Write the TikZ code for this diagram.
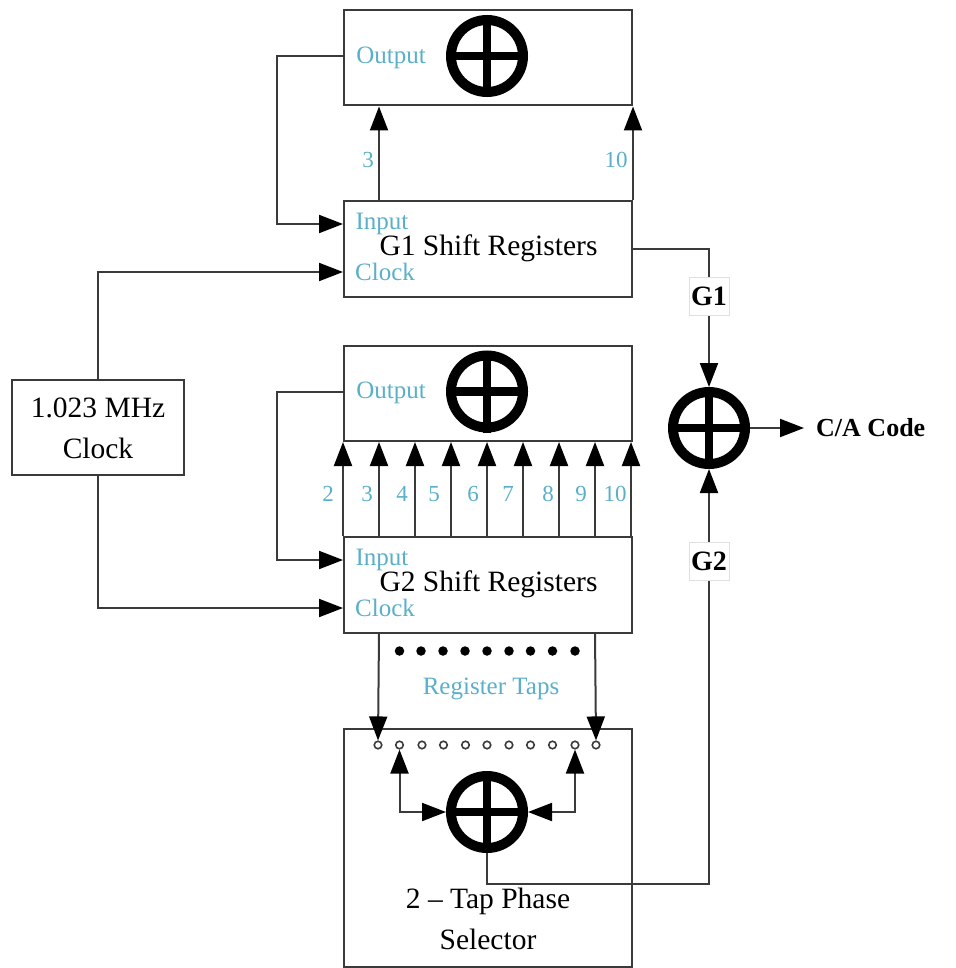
\documentclass[tikz,border=0pt]{standalone}
\usepackage{fontspec}
\setmainfont{Liberation Serif}
\usetikzlibrary{arrows.meta,calc}
\definecolor{tealtxt}{HTML}{5AAFC9}
\definecolor{linegray}{HTML}{3A3A3A}
\tikzset{
  block/.style={draw=linegray,line width=2pt,minimum width=288pt,minimum height=95.5pt,inner sep=0pt,anchor=north west},
  xorsym/.style={circle,draw=black,line width=10pt,minimum size=72pt,inner sep=0pt,fill=white},
  xorbar/.style={draw=black,line width=8.5pt},
  link/.style={draw=linegray,line width=2pt},
  arr/.style={link,-{Triangle[length=24pt,width=18pt,color=black]}},
  darr/.style={link,{Triangle[length=24pt,width=18pt,color=black]}-{Triangle[length=24pt,width=18pt,color=black]}},
  port/.style={text=tealtxt,font=\fontsize{25}{28}\selectfont,inner sep=0pt},
  num/.style={text=tealtxt,font=\fontsize{23}{26}\selectfont,inner sep=0pt},
  title/.style={text=black,font=\fontsize{29.5}{32}\selectfont,inner sep=0pt},
  tag/.style={draw=black!12,line width=1pt,fill=white,text=black,font=\bfseries\fontsize{28}{30}\selectfont,minimum width=40pt,minimum height=38pt,inner sep=0pt},
  hole/.style={circle,draw=linegray,line width=1.6pt,fill=white,minimum size=7.5pt,inner sep=0pt},
  bead/.style={circle,fill=black,minimum size=9.5pt,inner sep=0pt},
}
\newcommand{\xorat}[2]{%
  \node[xorsym] (#1) at (#2) {};
  \draw[xorbar] (#1.north) -- (#1.south);
  \draw[xorbar] (#1.west) -- (#1.east);
}
\begin{document}
\begin{tikzpicture}[x=1pt,y=-1pt]
\useasboundingbox (0,0) rectangle (955,968);
% blocks
\node[block] (g1out) at (343,9) {};
\node[block] (g1reg) at (343,200) {};
\node[block] (g2out) at (343,344.5) {};
\node[block] (g2reg) at (343,536) {};
\node[block,minimum height=238pt] (sel) at (343,728) {};
\node[draw=linegray,line width=2pt,minimum width=172pt,minimum height=95pt,inner sep=0pt,align=center] (clk) at (98,427.5) {};
\node[title] (clk1) at (98,408) {1.023 MHz};
\node[title] (clk2) at (98,448) {Clock};
% xor symbols
\xorat{xg1}{487,56}
\xorat{xg2}{487,391.5}
\xorat{xca}{709,428}
\xorat{xsel}{487,812}
% coordinates of ports
\coordinate (g1fb) at (277,56);
\coordinate (g1in) at (343,224);
\coordinate (g1ck) at (343,272);
\coordinate (g2fb) at (277,391.5);
\coordinate (g2in) at (343,560);
\coordinate (g2ck) at (343,608);
% holes & beads
\foreach \n/\x in {1/378,2/399.5,3/422,4/443.5,5/465.5,6/487,7/509,8/530.5,9/552.5,10/575,11/596}
  \node[hole] (h\n) at (\x,745) {};
\foreach \n/\x in {1/399.5,2/421,3/443,4/465,5/487,6/509,7/530.5,8/552.5,9/575}
  \node[bead] (b\n) at (\x,651) {};
% text
\node[port] (t1) at (391,58) {Output};
\node[port] (t2) at (391,393) {Output};
\node[port] (t3) at (382,224) {Input};
\node[port] (t4) at (385,272) {Clock};
\node[port] (t5) at (382,560) {Input};
\node[port] (t6) at (385,608) {Clock};
\node[title] (t7) at (488.5,248) {G1 Shift Registers};
\node[title] (t8) at (488.5,584) {G2 Shift Registers};
\node[title] (t9) at (488,901) {2 – Tap Phase};
\node[title] (t10) at (488,939) {Selector};
\node[port] (t11) at (491,689) {Register Taps};
\node[num] (n3a) at (368,160) {3};
\node[num] (n10a) at (616,160) {10};
\foreach \x/\l in {328/2,367/3,402/4,434/5,473/6,508/7,548/8,581/9,615/10}
  \node[num] (m\l) at (\x,494) {\l};
% connectors
\draw[arr] (g1reg.north -| 379,0) -- (g1out.south -| 379,0);
\draw[arr] (g1reg.north east) -- (g1out.south east);
\draw[arr] (g1out.west |- g1fb) -- (g1fb) -- (g1fb |- g1in) -- (g1in);
\draw[arr] (clk.north) |- (g1ck);
\draw[arr] (clk.south) |- (g2ck);
\draw[arr] (g2out.west |- g2fb) -- (g2fb) -- (g2fb |- g2in) -- (g2in);
\foreach \x in {343,379,415,451,487,523,559,595,631}
  \draw[arr] (g2reg.north -| \x,0) -- (g2out.south -| \x,0);
\draw[arr] (g1reg.east) -| (xca.north);
\draw[arr] (xsel.south) |- (709,884) -- (xca.south);
\draw[arr] (xca.east) -- (804,428);
\draw[arr] (g2reg.south -| 379,0) -- (h1.north);
\draw[arr] (g2reg.south -| 595,0) -- (h11.north);
\draw[darr] (h2.south) |- (xsel.west);
\draw[darr] (h10.south) |- (xsel.east);
% tags over lines
\node[tag] (tg1) at (709,296) {G1};
\node[tag] (tg2) at (709,561) {G2};
\node[text=black,font=\bfseries\fontsize{26}{28}\selectfont,inner sep=0pt,anchor=west] (ca) at (816,428) {C/A Code};
\end{tikzpicture}
\end{document}
